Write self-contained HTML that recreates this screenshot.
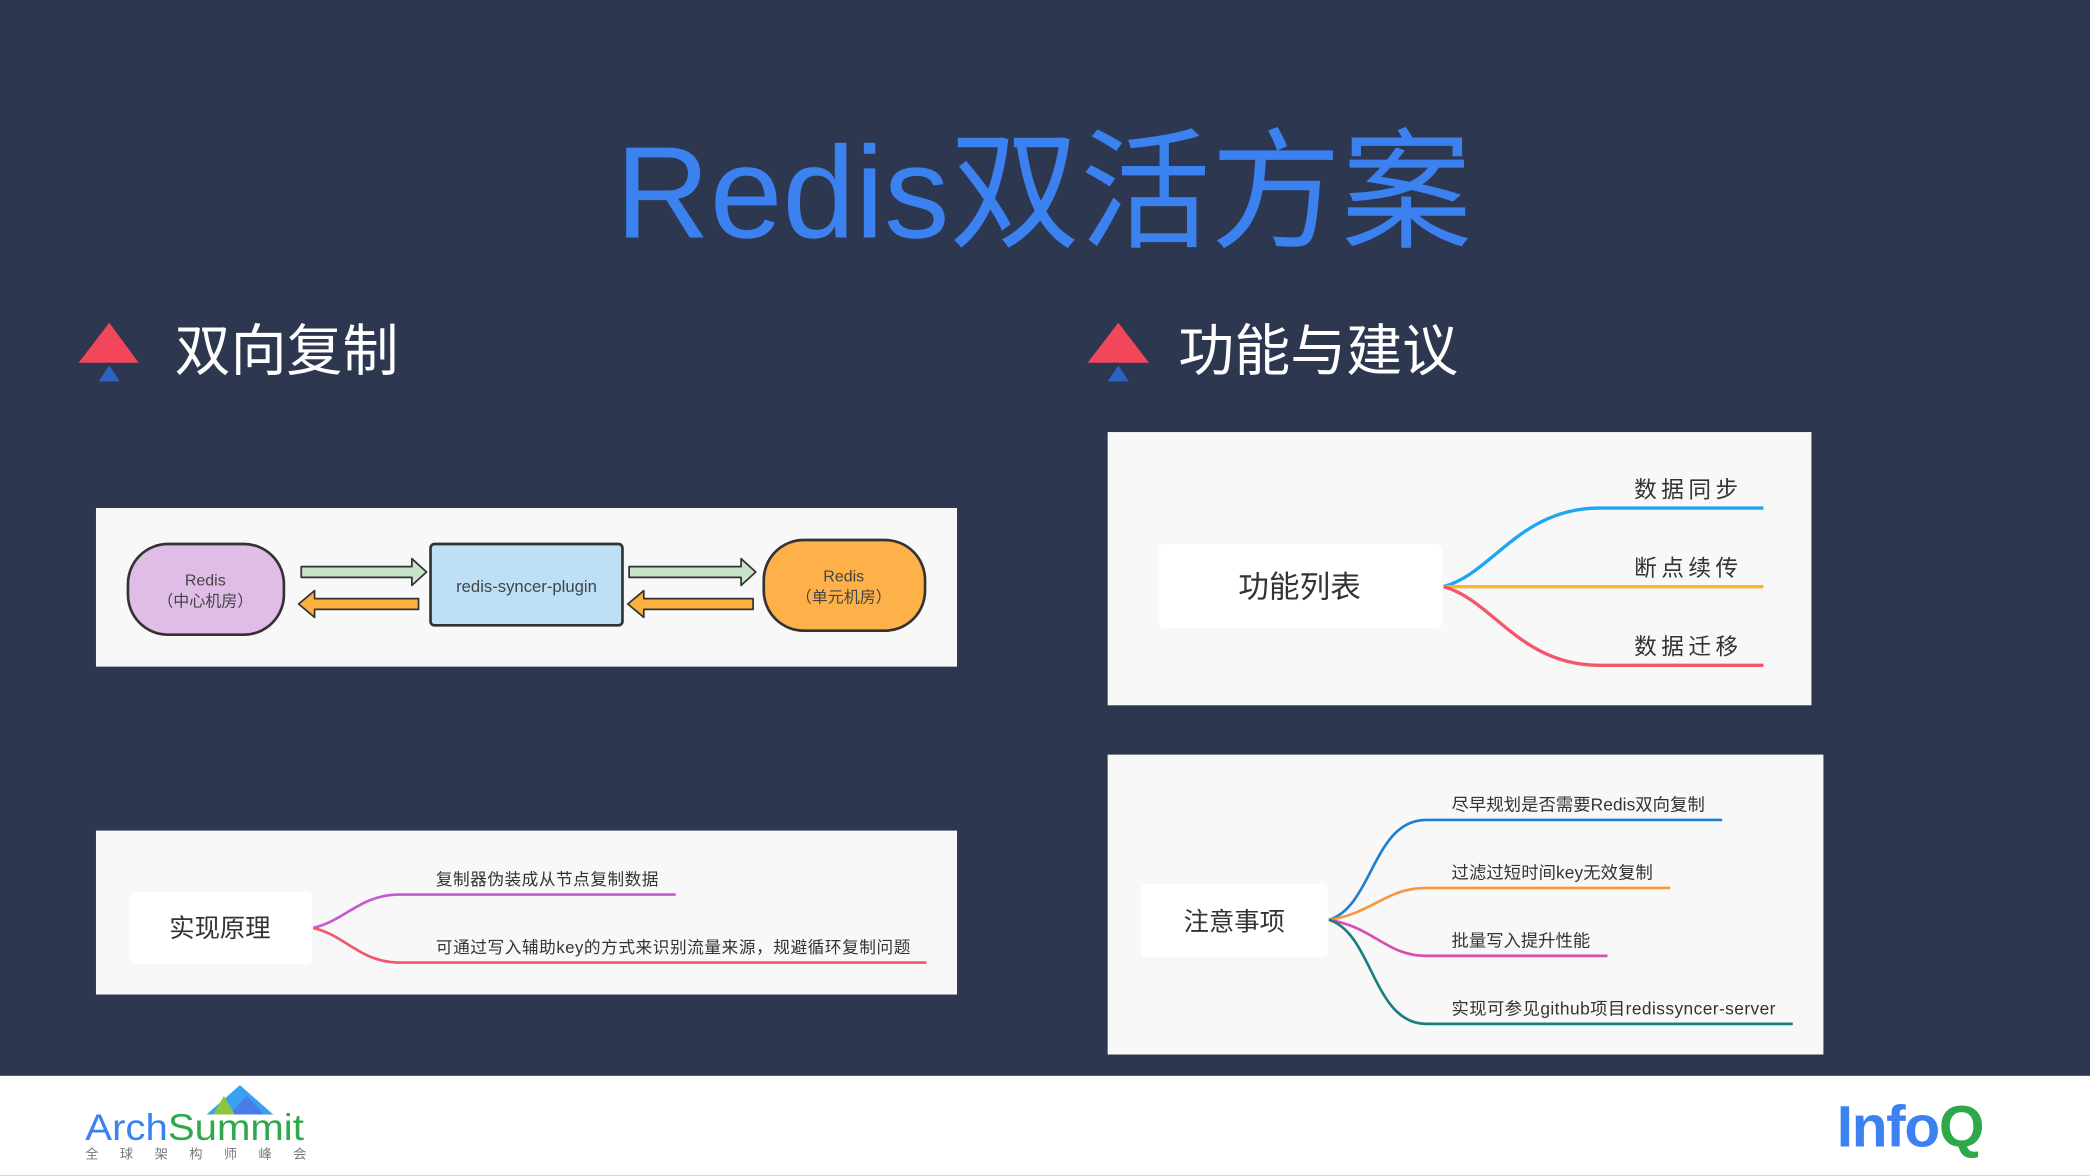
<!DOCTYPE html>
<html><head><meta charset="utf-8"><style>
html,body{margin:0;padding:0;background:#2d374f;}
svg{display:block;}
text{font-family:"Liberation Sans","Noto Sans CJK SC",sans-serif;}
</style></head><body>
<svg width="2090" height="1176" viewBox="0 0 1568 882" xmlns="http://www.w3.org/2000/svg">
<rect width="1568" height="882" fill="#2d374f"/>
<text x="783" y="178" text-anchor="middle" font-size="98" fill="#3b82f0">Redis双活方案</text>
<polygon points="82,242 104,272 59,272" fill="#f2475b"/><polygon points="82,274 90,286 74,286" fill="#2d62c0"/>
<text x="131" y="278" font-size="42" fill="#fff">双向复制</text>
<polygon points="839,242 862,272 816,272" fill="#f2475b"/><polygon points="839,274 847,286 831,286" fill="#2d62c0"/>
<text x="884" y="278" font-size="42" fill="#fff">功能与建议</text>

<rect x="72" y="381" width="646" height="119" fill="#f8f8f8"/>
<rect x="96" y="408" width="117" height="68" rx="30" fill="#e0bde6" stroke="#333" stroke-width="2"/>
<text x="154" y="439" font-size="12" text-anchor="middle" fill="#444">Redis</text>
<text x="154" y="455" font-size="12" text-anchor="middle" fill="#444">（中心机房）</text>
<rect x="323" y="408" width="144" height="61" rx="3" fill="#bde0f7" stroke="#333" stroke-width="2"/>
<text x="395" y="444" font-size="12.5" text-anchor="middle" fill="#444">redis-syncer-plugin</text>
<rect x="573" y="405" width="121" height="68" rx="30" fill="#fdb148" stroke="#333" stroke-width="2"/>
<text x="633" y="436" font-size="12" text-anchor="middle" fill="#444">Redis</text>
<text x="633" y="452" font-size="12" text-anchor="middle" fill="#444">（单元机房）</text>
<g stroke="#333" stroke-width="1.3" stroke-linejoin="round">
<polygon points="226,425 309,425 309,419 320,429 309,439 309,433 226,433" fill="#c6e5c8"/>
<polygon points="314,449 236,449 236,443 224,453 236,463 236,457 314,457" fill="#fbb040"/>
<polygon points="472,425 556,425 556,419 567,429 556,439 556,433 472,433" fill="#c6e5c8"/>
<polygon points="565,449 483,449 483,443 471,453 483,463 483,457 565,457" fill="#fbb040"/>
</g>

<rect x="72" y="623" width="646" height="123" fill="#f8f8f8"/>
<rect x="97" y="669" width="137" height="54" rx="4" fill="#fff"/>
<text x="165" y="703" font-size="19" text-anchor="middle" fill="#333">实现原理</text>
<path d="M235,696 C260,690 270,671 300,671 L507,671" fill="none" stroke="#c45bd0" stroke-width="2"/>
<path d="M235,696 C260,702 270,722 300,722 L695,722" fill="none" stroke="#f5566a" stroke-width="2"/>
<text x="327" y="664" font-size="12.5" fill="#333" textLength="167">复制器伪装成从节点复制数据</text>
<text x="327" y="715" font-size="12.5" fill="#333" textLength="356">可通过写入辅助key的方式来识别流量来源，规避循环复制问题</text>

<rect x="831" y="324" width="528" height="205" fill="#f8f8f8"/>
<rect x="869" y="408" width="213" height="63" rx="5" fill="#fff"/>
<text x="975" y="448" font-size="23" text-anchor="middle" fill="#333">功能列表</text>
<path d="M1083,440 C1120,430 1140,381 1200,381 L1323,381" fill="none" stroke="#1ea7f0" stroke-width="2.5"/>
<path d="M1083,440 L1323,440" fill="none" stroke="#f9b52e" stroke-width="2.5"/>
<path d="M1083,440 C1120,450 1140,499 1200,499 L1323,499" fill="none" stroke="#f5566a" stroke-width="2.5"/>
<text x="1226" y="373" font-size="17" fill="#333" textLength="78">数据同步</text>
<text x="1226" y="432" font-size="17" fill="#333" textLength="78">断点续传</text>
<text x="1226" y="491" font-size="17" fill="#333" textLength="78">数据迁移</text>

<rect x="831" y="566" width="537" height="225" fill="#f8f8f8"/>
<rect x="856" y="663" width="140" height="55" rx="4" fill="#fff"/>
<text x="926" y="698" font-size="19" text-anchor="middle" fill="#333">注意事项</text>
<path d="M997,690 C1030,680 1030,615 1070,615 L1292,615" fill="none" stroke="#1f7fd0" stroke-width="2"/>
<path d="M997,690 C1030,685 1040,666 1070,666 L1253,666" fill="none" stroke="#f7963a" stroke-width="2"/>
<path d="M997,690 C1030,695 1040,717 1070,717 L1206,717" fill="none" stroke="#d64fb0" stroke-width="2"/>
<path d="M997,690 C1030,700 1030,768 1070,768 L1345,768" fill="none" stroke="#1a7f80" stroke-width="2"/>
<text x="1089" y="608" font-size="13" fill="#333" textLength="190">尽早规划是否需要Redis双向复制</text>
<text x="1089" y="659" font-size="13" fill="#333" textLength="151">过滤过短时间key无效复制</text>
<text x="1089" y="710" font-size="13" fill="#333" textLength="104">批量写入提升性能</text>
<text x="1089" y="761" font-size="13" fill="#333" textLength="243">实现可参见github项目redissyncer-server</text>

<rect x="0" y="807" width="1568" height="75" fill="#fff"/>
<polygon points="180,814 205,836 155,836" fill="#3aa0f0"/>
<polygon points="185,822 198,836 172,836" fill="#4b7be8"/>
<polygon points="168,822 176,836 160,836" fill="#8cc63f"/>
<text x="64" y="855" font-size="28" fill="#3b82f0" textLength="164" lengthAdjust="spacingAndGlyphs">Arch<tspan fill="#2ea84a">Summit</tspan></text>
<text x="64" y="869" font-size="10" fill="#777" letter-spacing="16">全球架构师峰会</text>
<text x="1378" y="860" font-size="44" font-weight="bold" fill="#3b82f0" letter-spacing="-1">Info<tspan fill="#2ea84a">Q</tspan></text>
</svg>
</body></html>
